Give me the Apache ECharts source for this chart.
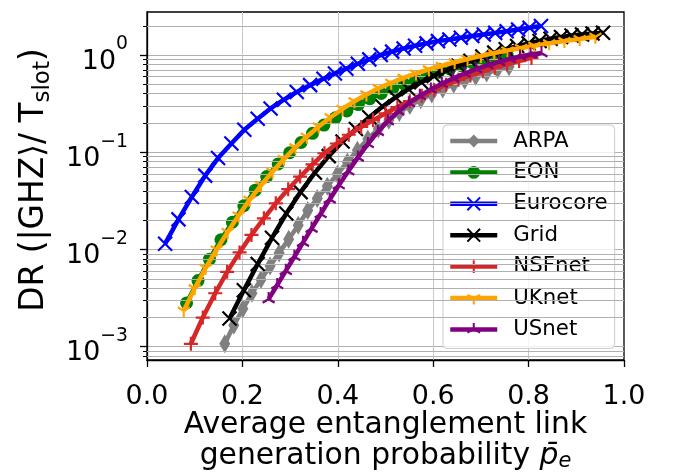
<!DOCTYPE html>
<html><head><meta charset="utf-8">
<script src="https://cdn.jsdelivr.net/npm/echarts@6/dist/echarts.min.js"></script>
<style>html,body{margin:0;padding:0;background:#fff}#c{width:675px;height:475px}</style>
</head><body><div id="c"></div>
<script>
// ---------- data ----------
const seriesNames = ['ARPA', 'EON', 'Eurocore', 'Grid', 'NSFnet', 'UKnet', 'USnet'];
const arpaX = [0.163,0.182,0.201,0.220,0.239,0.258,0.277,0.297,0.317,0.337,0.357,0.378,0.399,0.420,0.441,0.463,0.485,0.507,0.529,0.551,0.574,0.597,0.620,0.643,0.666,0.689,0.712,0.735,0.759];
const arpaY = [0.001072,0.00166,0.002455,0.003548,0.004898,0.006761,0.009226,0.01274,0.01778,0.02512,0.0335,0.04467,0.05957,0.07943,0.1047,0.1365,0.1738,0.2138,0.2570,0.3020,0.3467,0.3981,0.4467,0.5012,0.5495,0.6026,0.6531,0.7079,0.7586];
const eonX = [0.083,0.107,0.131,0.155,0.179,0.203,0.227,0.251,0.275,0.299,0.323,0.347,0.371,0.395,0.419,0.443,0.467,0.491,0.515,0.539,0.563,0.587,0.611,0.635,0.659,0.683,0.707,0.731,0.755];
const eonY = [0.002818,0.004786,0.007943,0.01259,0.01905,0.02818,0.04074,0.05623,0.07586,0.09886,0.1259,0.1567,0.1905,0.2265,0.2661,0.3090,0.3548,0.4027,0.4519,0.5035,0.5559,0.6095,0.6637,0.7194,0.7762,0.8318,0.8872,0.9419,0.9954];
const euroX = [0.038,0.066,0.094,0.122,0.149,0.177,0.204,0.232,0.259,0.287,0.314,0.342,0.370,0.394,0.418,0.442,0.466,0.490,0.514,0.538,0.562,0.586,0.610,0.634,0.658,0.682,0.706,0.730,0.754,0.778,0.802,0.826];
const euroY = [0.01148,0.0204,0.0347,0.0575,0.0871,0.123,0.170,0.2213,0.282,0.347,0.417,0.490,0.569,0.646,0.724,0.813,0.902,1.0,1.084,1.169,1.245,1.318,1.390,1.445,1.507,1.567,1.629,1.690,1.758,1.828,1.905,1.986];
const gridX = [0.173,0.203,0.232,0.262,0.292,0.322,0.352,0.381,0.410,0.438,0.466,0.494,0.521,0.548,0.575,0.601,0.627,0.653,0.678,0.703,0.728,0.752,0.776,0.800,0.823,0.846,0.868,0.890,0.912,0.934,0.956];
const gridY = [0.00195,0.0038,0.00708,0.01318,0.02344,0.0389,0.0617,0.0912,0.1288,0.1738,0.2291,0.2951,0.3673,0.4467,0.5248,0.6095,0.6918,0.7762,0.8710,0.9661,1.059,1.148,1.236,1.318,1.396,1.469,1.531,1.585,1.629,1.667,1.698];
const nsfX = [0.092,0.117,0.143,0.168,0.194,0.219,0.245,0.270,0.296,0.321,0.347,0.372,0.398,0.423,0.449,0.474,0.500,0.525,0.551,0.576,0.602,0.627,0.653,0.678,0.704,0.729,0.755,0.780,0.806];
const nsfY = [0.001072,0.001995,0.003548,0.005888,0.009333,0.01413,0.02089,0.02985,0.04169,0.05623,0.07499,0.09772,0.1230,0.1514,0.1820,0.2138,0.2512,0.2917,0.3350,0.3802,0.4365,0.4955,0.5559,0.6166,0.6792,0.7413,0.8035,0.8670,0.9333];
const ukX = [0.077,0.100,0.123,0.146,0.169,0.192,0.215,0.239,0.263,0.287,0.311,0.335,0.360,0.385,0.410,0.435,0.460,0.486,0.512,0.538,0.564,0.591,0.618,0.645,0.672,0.700,0.728,0.756,0.784,0.812,0.843,0.875,0.907,0.940];
const ukY = [0.002344,0.003981,0.006457,0.01,0.01514,0.02239,0.03236,0.04571,0.0631,0.08511,0.1122,0.1445,0.1841,0.2291,0.2786,0.3350,0.3936,0.4571,0.5188,0.5821,0.6457,0.7112,0.7762,0.8414,0.9078,0.9772,1.047,1.114,1.180,1.247,1.318,1.390,1.462,1.542];
const usX = [0.255,0.273,0.291,0.309,0.327,0.345,0.364,0.383,0.402,0.422,0.442,0.463,0.484,0.505,0.527,0.549,0.572,0.595,0.618,0.642,0.666,0.690,0.714,0.738,0.760,0.782,0.804,0.827];
const usY = [0.00309,0.004315,0.006026,0.008414,0.01175,0.01641,0.02317,0.03273,0.04571,0.06383,0.0881,0.1216,0.1622,0.2089,0.2630,0.3199,0.3802,0.4416,0.5070,0.5754,0.6457,0.7161,0.7852,0.8511,0.9120,0.9661,1.012,1.047];
const xTickLabels = ['0.0', '0.2', '0.4', '0.6', '0.8', '1.0'];
const yMinorTicks = [0.0008,0.0009,0.002,0.003,0.004,0.005,0.006,0.007,0.008,0.009,0.02,0.03,0.04,0.05,0.06,0.07,0.08,0.09,0.2,0.3,0.4,0.5,0.6,0.7,0.8,0.9,2];
const xTitleLines = ['Average entanglement link', 'generation probability {pi|p\u0304}{sub|e}'];

// ---------- styling ----------
const colors = ['#808080', '#008000', '#0000ff', '#000000', '#d62728', '#ffa500', '#800080'];
const xs = [arpaX, eonX, euroX, gridX, nsfX, ukX, usX];
const ys = [arpaY, eonY, euroY, gridY, nsfY, ukY, usY];
const symbols = [
  {symbol: 'path://M3,0L6,5L3,10L0,5Z', size: [11, 19], bw: 0},
  {symbol: 'circle', size: 13, bw: 0},
  {symbol: 'path://M0,0L10,10M10,0L0,10', size: 14, bw: 2.2},
  {symbol: 'path://M0,0L10,10M10,0L0,10', size: 14, bw: 2.2},
  {symbol: 'path://M5,0L5,10M0,5L10,5', size: 14, bw: 2.2},
  {symbol: 'path://M5,5L5,10M5,5L0.67,2.5M5,5L9.33,2.5M5,0L5,0.01', size: [12, 14], bw: 2.2},
  {symbol: 'path://M5,5L5,0M5,5L0.67,7.5M5,5L9.33,7.5M5,10L5,9.99', size: [12, 14], bw: 2.2}
];
const L = 147, R = 624, T = 12, B = 360;
const FONT = 'DejaVu Sans';

const series = seriesNames.map((name, i) => ({
  name: name, type: 'line',
  data: xs[i].map((x, j) => [x, ys[i][j]]),
  z: 3 + i,
  symbol: symbols[i].symbol, symbolSize: symbols[i].size,
  showSymbol: true, showAllSymbol: true,
  lineStyle: {color: colors[i], width: 4.5},
  itemStyle: {color: colors[i], borderColor: colors[i], borderWidth: symbols[i].bw},
  emphasis: {disabled: true}, animation: false
}));
// minor horizontal grid lines and minor ticks of the log axis
series.push({
  name: 'minor', type: 'line', data: [], z: 1, clip: false, silent: true,
  markLine: {
    silent: true, symbol: ['none', 'none'], animation: false,
    label: {show: false}, emphasis: {disabled: true},
    lineStyle: {color: '#b0b0b0', width: 1, type: 'solid'},
    data: yMinorTicks.map(v => [{x: L, yAxis: v}, {x: R, yAxis: v}])
      .concat(yMinorTicks.map(v => [{x: L - 4, yAxis: v, lineStyle: {color: '#000', width: 1}}, {x: L, yAxis: v}]))
  }
});

const chart = echarts.init(document.getElementById('c'), null, {renderer: 'canvas'});
chart.setOption({
  animation: false, backgroundColor: '#ffffff',
  textStyle: {fontFamily: FONT, color: '#000'},
  grid: {left: L, right: 675 - R, top: T, bottom: 475 - B, show: true, borderColor: '#000', borderWidth: 1.3, backgroundColor: 'transparent'},
  legend: {
    data: seriesNames, orient: 'vertical', left: 443, top: 125,
    padding: [5, 7, 8, 5],
    itemWidth: 47, itemHeight: 16, itemGap: 9.4,
    lineStyle: {width: 4.5},
    backgroundColor: 'rgba(255,255,255,0.8)',
    borderColor: '#cccccc', borderWidth: 1, borderRadius: 4,
    textStyle: {fontSize: 21.3, color: '#000', lineHeight: 22, padding: [0, 0, 0, 11], fontFamily: FONT}
  },
  graphic: [
    {type: 'text', x: (L + R) / 2, y: 425, silent: true,
      style: {text: xTitleLines[0], fontSize: 29.8, fontFamily: FONT, fill: '#000', align: 'center', verticalAlign: 'middle'}},
    {type: 'text', x: (L + R) / 2, y: 456, silent: true,
      style: {text: xTitleLines[1], fontSize: 29.8, fontFamily: FONT, fill: '#000', align: 'center', verticalAlign: 'middle', lineHeight: 32,
        rich: {
          pi: {fontSize: 29.8, fontFamily: FONT, fontStyle: 'italic', lineHeight: 32, fill: '#000'},
          sub: {fontSize: 20.9, fontFamily: FONT, fontStyle: 'italic', lineHeight: 16, verticalAlign: 'bottom', fill: '#000'}
        }}}
  ],
  xAxis: {
    type: 'value', min: 0, max: 1, interval: 0.2,
    axisLine: {show: true, lineStyle: {color: '#000', width: 1.3}},
    axisTick: {show: true, length: 7, lineStyle: {color: '#000', width: 1.3}},
    axisLabel: {fontSize: 26.9, color: '#000', margin: 23.5, formatter: (v) => xTickLabels[Math.round(v / 0.2)]},
    splitLine: {show: true, showMinLine: false, showMaxLine: false, lineStyle: {color: '#c8c8c8', width: 1}}
  },
  yAxis: {
    type: 'log', logBase: 10, min: 0.00073, max: 2.77,
    name: 'DR (|GHZ\u27e9/ T{s|slot})',
    nameLocation: 'middle', nameGap: 95,
    nameTextStyle: {fontSize: 32.8, lineHeight: 36, color: '#000', padding: [0, 0, 0, 12],
      rich: {s: {fontSize: 23, lineHeight: 20, padding: [15.8, 0, 0, 0], verticalAlign: 'top'}}},
    axisLine: {show: true, lineStyle: {color: '#000', width: 1.3}},
    axisTick: {show: true, length: 7, lineStyle: {color: '#000', width: 1.3}},
    axisLabel: {
      margin: 19, color: '#000', showMinLabel: false, showMaxLabel: false, align: 'right',
      formatter: function (v) {
        const e = Math.log10(v); const r = Math.round(e);
        if (Math.abs(e - r) > 0.01) return '';
        return '{b|10}{s|' + (r < 0 ? '\u2212' + (-r) : String(r)) + '}';
      },
      rich: {
        b: {fontSize: 26.9, lineHeight: 40, verticalAlign: 'bottom', align: 'right'},
        s: {fontSize: 18.8, lineHeight: 20, verticalAlign: 'top', align: 'right'}
      }
    },
    splitLine: {show: true, showMinLine: false, showMaxLine: false, lineStyle: {color: '#b0b0b0', width: 1}}
  },
  series: series
});
</script>
</body></html>
